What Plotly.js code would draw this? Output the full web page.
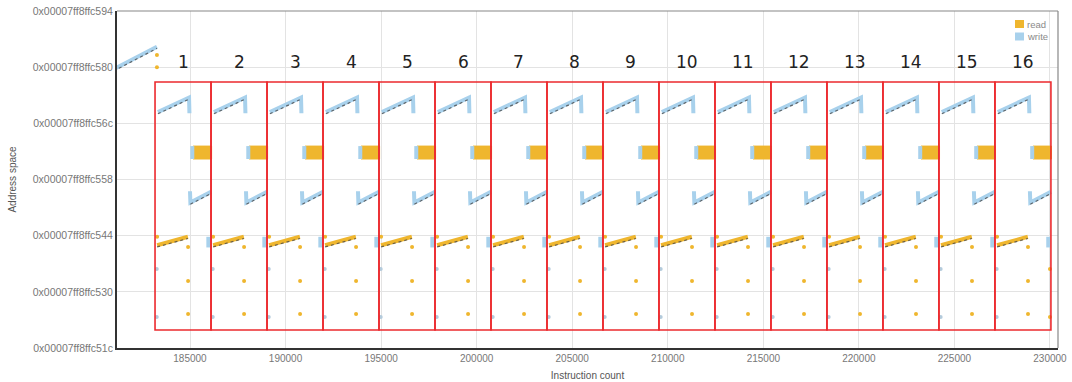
<!DOCTYPE html>
<html>
<head>
<meta charset="utf-8">
<script src="https://cdn.plot.ly/plotly-3.0.1.min.js"></script>
<style>html,body{margin:0;padding:0;background:#fff;}#chart{width:1072px;height:382px;}</style>
</head>
<body>
<div id="chart"></div>
<script>
// ---- data (instruction count, address low byte offset from 0x00007ff8ffc500) ----
const boxStarts = [183170, 186100, 189030, 191960, 194890, 197820, 200750, 203680,
                   206610, 209540, 212470, 215400, 218330, 221260, 224190, 227120];
const iterLength = 2930;
const boxAddrRange = [34.4, 122.7];
const boxLabels = ["1","2","3","4","5","6","7","8","9","10","11","12","13","14","15","16"];
const labelAddr = 129.8;

// per-iteration access pattern (offset within iteration, address)
const writeRampOff  = [150, 1780, 1800];
const writeRampAddr = [112.0, 117.2, 111.6];
const writeHookOff  = [1830, 1850, 2930];
const writeHookAddr = [83.8, 79.8, 83.6];
const writeEdgeOff  = [1950, 1950];
const writeEdgeAddr = [99.9, 95.3];
const writeTickOff  = [2790, 2790];
const writeTickAddr = [67.6, 63.8];
const writeDotOff   = [90, 90];
const writeDotAddr  = [56.1, 39.0];
const readRampOff   = [110, 1720];
const readRampAddr  = [64.6, 67.6];
const readBlockOff  = [1990, 2960];
const readBlockAddr = [95.3, 99.9];
const readDotOff    = [110, 1730, 1730, 1730];
const readDotAddr   = [67.6, 64.0, 51.9, 40.1];

// accesses before the first / after the last iteration
const introWriteX    = [181000, 183270];
const introWriteAddr = [127.2, 135.3];
const introReadX     = [183270, 183270];
const introReadAddr  = [132.3, 128.0];
const tailReadX      = [230000, 230000];
const tailReadAddr   = [56.1, 39.0];

// axis ticks & legend
const yTickVals  = [28, 48, 68, 88, 108, 128, 148];
const yTickText  = ["0x00007ff8ffc51c","0x00007ff8ffc530","0x00007ff8ffc544","0x00007ff8ffc558",
                    "0x00007ff8ffc56c","0x00007ff8ffc580","0x00007ff8ffc594"];
const xTickVals  = [185000,190000,195000,200000,205000,210000,215000,220000,225000,230000];
const legendNames = ["read", "write"];

// ---- build traces ----
const GOLD = "#efb62e", BLUE = "#a8d1ec", DASH = "#4a4a4a";
const legendColors = [GOLD, BLUE];
function segs(off, addr, parts) {
  const x = [], y = [];
  boxStarts.forEach(s => {
    parts.forEach(([a, b]) => {
      for (let i = a; i <= b; i++) { x.push(s + off[i]); y.push(addr[i]); }
      x.push(null); y.push(null);
    });
  });
  return {x, y};
}
function pts(off, addr) {
  const x = [], y = [];
  boxStarts.forEach(s => off.forEach((o, i) => { x.push(s + o); y.push(addr[i]); }));
  return {x, y};
}
const wRamp = segs(writeRampOff, writeRampAddr, [[0, 2]]);
const wHook = segs(writeHookOff, writeHookAddr, [[0, 2]]);
const wEdge = segs(writeEdgeOff, writeEdgeAddr, [[0, 1]]);
const wTick = segs(writeTickOff, writeTickAddr, [[0, 1]]);
const rRamp = segs(readRampOff, readRampAddr, [[0, 1]]);
const wRampDash = segs(writeRampOff, writeRampAddr.map(v => v - 0.6), [[0, 1]]);
const wHookDash = segs(writeHookOff, writeHookAddr.map(v => v - 0.6), [[1, 2]]);
const rRampDash = segs(readRampOff, readRampAddr.map(v => v - 0.6), [[0, 1]]);

const blkX = [], blkY = [];
boxStarts.forEach(s => {
  blkX.push(s + readBlockOff[0], s + readBlockOff[1], s + readBlockOff[1], s + readBlockOff[0], s + readBlockOff[0], null);
  blkY.push(readBlockAddr[0], readBlockAddr[0], readBlockAddr[1], readBlockAddr[1], readBlockAddr[0], null);
});
const wDots = pts(writeDotOff, writeDotAddr);
const rDots = pts(readDotOff, readDotAddr);

function cat(a, b) { return {x: a.x.concat(b.x), y: a.y.concat(b.y)}; }
const writeLines = cat(cat(cat(wRamp, wHook), cat(wEdge, wTick)),
                       {x: introWriteX.concat([null]), y: introWriteAddr.concat([null])});
const dashLines = cat(cat(wRampDash, wHookDash), cat(rRampDash,
                       {x: introWriteX.concat([null]), y: introWriteAddr.map(v => v - 0.6).concat([null])}));

const traces = [
  {type:"scatter", mode:"lines", x: blkX, y: blkY, fill:"toself", fillcolor: GOLD,
   line:{color: GOLD, width: 1}, showlegend:false, hoverinfo:"skip"},
  {type:"scatter", mode:"lines", x: writeLines.x, y: writeLines.y,
   line:{color: BLUE, width: 4}, showlegend:false, hoverinfo:"skip"},
  {type:"scatter", mode:"lines", x: rRamp.x, y: rRamp.y,
   line:{color: GOLD, width: 4}, showlegend:false, hoverinfo:"skip"},
  {type:"scatter", mode:"lines", x: dashLines.x, y: dashLines.y,
   line:{color: DASH, width: 1.2, dash:"3px,3px"}, opacity:0.8, showlegend:false, hoverinfo:"skip"},
  {type:"scatter", mode:"markers", x: wDots.x, y: wDots.y,
   marker:{color:"#b4cbdc", size:4}, showlegend:false, hoverinfo:"skip"},
  {type:"scatter", mode:"markers", x: rDots.x.concat(introReadX, tailReadX), y: rDots.y.concat(introReadAddr, tailReadAddr),
   marker:{color: GOLD, size:4}, showlegend:false, hoverinfo:"skip"}
];

const shapes = boxStarts.map(s => ({
  type:"rect", xref:"x", yref:"y", x0: s, x1: s + iterLength,
  y0: boxAddrRange[0], y1: boxAddrRange[1], line:{color:"#ec2a2e", width:1.6}
}));
shapes.push({type:"line", xref:"paper", yref:"paper", x0:0, x1:1, y0:1, y1:1, line:{color:"#888", width:1.2}});
shapes.push({type:"line", xref:"paper", yref:"paper", x0:1, x1:1, y0:0, y1:1, line:{color:"#888", width:1.2}});

const annotations = boxStarts.map((s, i) => ({
  x: s + iterLength / 2, y: labelAddr, xref:"x", yref:"y", text: boxLabels[i],
  showarrow:false, font:{size:17, color:"#222", family:"DejaVu Sans"}
}));

// compact legend drawn in pixel-like positions (paper coords)
const PW = 941, PH = 337;
legendNames.forEach((name, i) => {
  const top = 20 + i * 12.5;            // px from plot top edge (plot top at 11)
  shapes.push({type:"rect", xref:"paper", yref:"paper",
    x0: (1015 - 117) / PW, x1: (1024 - 117) / PW,
    y0: (348 - (top + 8)) / PH, y1: (348 - top) / PH,
    fillcolor: legendColors[i], line:{width:0}});
  annotations.push({xref:"paper", yref:"paper", x:(1024.5 - 117) / PW, y:(348 - (top + 4)) / PH,
    xanchor:"left", yanchor:"middle", text:name, showarrow:false,
    font:{size:9.5, color:"#8a8a8a"}});
});

const layout = {
  width:1072, height:382,
  margin:{l:117, r:14, t:11, b:34},
  paper_bgcolor:"#fff", plot_bgcolor:"#fff",
  font:{family:"Liberation Sans, Arial, sans-serif", color:"#777", size:9},
  showlegend:false,
  xaxis:{range:[181180, 230420], tickvals:xTickVals, ticktext:xTickVals.map(String),
         showgrid:true, gridcolor:"#e3e3e3", zeroline:false, showline:true, linecolor:"#333", linewidth:2,
         ticks:"", tickfont:{size:10, color:"#777"},
         title:{text:"Instruction count", font:{size:10, color:"#555"}, standoff:9}},
  yaxis:{range:[28, 148], tickvals:yTickVals, ticktext:yTickText,
         showgrid:true, gridcolor:"#e3e3e3", zeroline:false, showline:true, linecolor:"#333", linewidth:2,
         ticks:"", tickfont:{size:10.5, color:"#777"},
         title:{text:"Address space", font:{size:10, color:"#555"}, standoff:14}},
  shapes: shapes, annotations: annotations
};
Plotly.newPlot("chart", traces, layout, {staticPlot:true});
</script>
</body>
</html>
